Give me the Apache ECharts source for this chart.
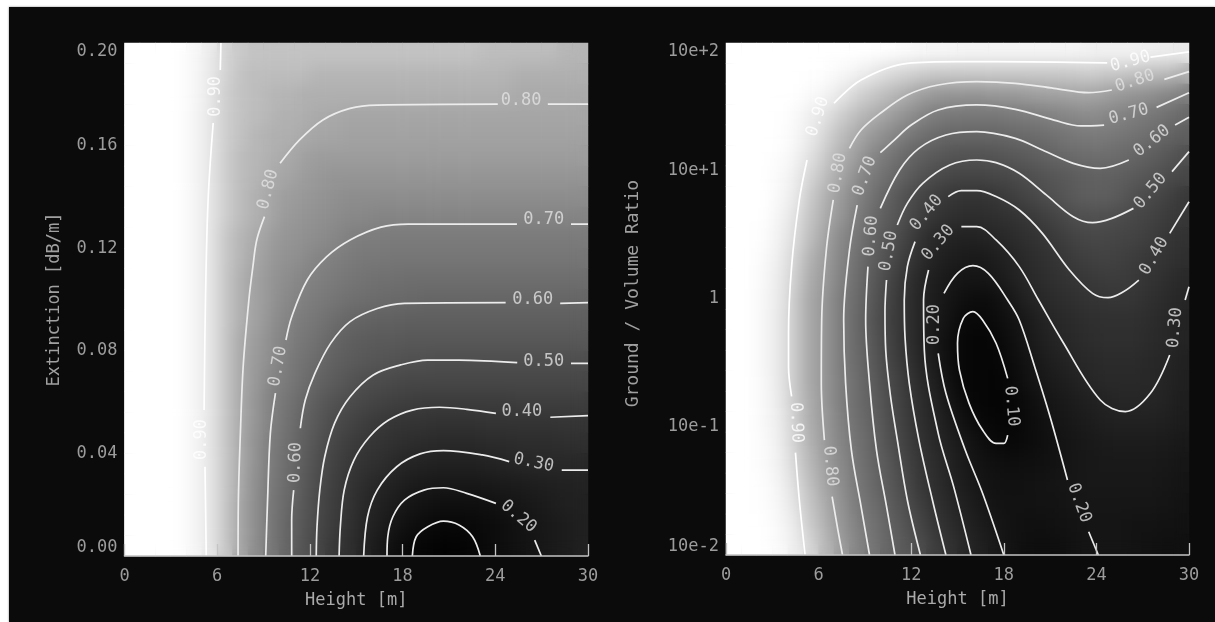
<!DOCTYPE html>
<html><head><meta charset="utf-8">
<style>
html,body{margin:0;padding:0;background:#fff;width:1215px;height:622px;overflow:hidden}
#frame{position:absolute;left:9px;top:7px;right:0;bottom:0;background:#0b0b0b;box-shadow:0 0 2px #888}
#chart{position:absolute;left:0;top:0;width:1215px;height:622px;filter:blur(0.7px)}
</style>
<script src="https://cdn.jsdelivr.net/npm/echarts@6/dist/echarts.min.js"></script>
</head><body><div id="frame"></div><div id="chart"></div>
<script>
// height bin centres [m]
const heightBins=[0.5,1.5,2.5,3.5,4.5,5.5,6.5,7.5,8.5,9.5,10.5,11.5,12.5,13.5,14.5,15.5,16.5,17.5,18.5,19.5,20.5,21.5,22.5,23.5,24.5,25.5,26.5,27.5,28.5,29.5];
// left panel rows, top to bottom (extinction), value x100
const extBins=[.196,.188,.18,.172,.164,.156,.148,.14,.132,.124,.116,.108,.1,.092,.084,.076,.068,.06,.052,.044,.036,.028,.02,.012,.004];
const leftGrid=[
[100,100,100,100,97,92,87,85,84,84,84,84,84,84,84,84,84,84,84,84,84,84,84,83,83,83,83,83,82,82],
[100,100,100,100,97,91,87,84,83,83,83,83,82,82,82,82,82,82,82,82,82,82,82,82,82,81,81,81,81,81],
[100,100,100,100,97,91,86,84,83,82,82,81,81,81,81,81,81,81,81,81,81,81,81,81,81,80,80,80,80,80],
[100,100,100,100,96,90,86,84,83,82,81,81,80,80,79,79,79,79,79,79,79,79,79,79,79,79,79,79,79,79],
[100,100,100,100,96,90,86,84,82,81,81,80,79,79,78,78,78,78,78,78,78,78,78,78,78,78,78,78,78,78],
[100,100,100,100,96,90,86,83,82,81,80,78,77,77,77,77,77,77,77,77,77,77,77,77,77,77,77,77,77,77],
[100,100,100,100,96,90,86,83,82,80,79,77,76,75,75,75,75,75,75,75,75,75,75,75,75,75,75,75,75,75],
[100,100,100,100,96,90,86,83,81,79,77,76,75,74,73,73,73,73,73,73,73,73,73,73,73,73,73,73,73,73],
[100,100,100,100,96,90,86,83,81,79,76,75,74,73,72,72,71,71,71,71,71,71,71,71,71,71,71,71,71,71],
[100,100,100,100,96,90,85,82,80,77,75,74,73,72,70,69,69,68,68,68,68,68,68,68,68,68,68,68,68,68],
[100,100,100,100,96,90,85,82,79,76,74,73,71,70,68,67,67,66,66,66,66,66,66,66,66,66,66,66,66,66],
[100,100,100,100,96,90,85,81,78,75,73,71,70,68,66,65,64,64,63,63,63,63,63,63,63,63,63,63,63,63],
[100,100,100,100,96,90,85,81,78,75,72,70,68,66,64,63,62,61,61,60,60,60,60,60,60,60,60,60,60,60],
[100,100,100,100,96,90,85,81,78,74,71,68,66,63,60,59,58,58,57,57,57,57,57,57,57,57,57,57,57,57],
[100,100,100,100,96,90,85,80,77,73,70,67,64,60,57,56,55,55,54,54,54,54,54,54,54,54,54,54,54,54],
[100,100,100,100,96,90,85,80,76,73,69,65,62,58,56,54,53,52,51,51,50,50,50,50,50,50,50,50,50,50],
[100,100,100,100,96,90,85,80,76,71,68,64,59,56,53,50,49,48,47,47,47,47,47,47,47,47,47,47,47,47],
[100,100,100,100,96,90,85,80,75,70,66,61,56,52,49,47,45,44,43,42,42,42,42,42,42,43,43,43,43,43],
[100,100,100,100,96,90,85,80,75,70,65,59,54,49,46,43,41,39,38,38,37,37,37,38,38,38,38,38,39,39],
[100,100,100,100,96,90,85,80,74,69,64,58,52,47,43,40,38,36,34,33,32,32,32,33,33,34,34,34,35,35],
[100,100,100,100,96,90,85,80,74,68,63,57,50,45,41,37,35,32,29,28,27,27,27,28,29,30,31,31,31,31],
[100,100,100,100,96,90,85,80,73,68,62,56,49,44,39,34,30,27,24,22,21,21,21,22,23,24,25,26,27,28],
[100,100,100,100,96,90,85,79,73,67,61,55,48,43,38,32,27,24,19,17,15,15,15,16,18,20,22,24,26,27],
[100,100,100,100,96,90,85,79,73,67,60,54,48,42,37,30,25,19,15,12,10,10,11,12,14,17,20,22,24,26],
[100,100,100,100,96,90,85,79,73,67,60,53,47,41,36,29,22,15,10,7,4,5,8,12,14,17,19,22,24,26]
];
// right panel rows, top to bottom (log10 of ground/volume ratio), value x100
const ratioBins=[1.92,1.76,1.6,1.44,1.28,1.12,.96,.8,.64,.48,.32,.16,0,-.16,-.32,-.48,-.64,-.8,-.96,-1.12,-1.28,-1.44,-1.6,-1.76,-1.92];
const rightGrid=[
[100,100,100,100,100,100,100,100,100,100,99,98,97,96,96,95,95,95,95,95,95,95,95,94,94,94,94,93,92,91],
[100,100,100,100,100,100,99,97,94,90,88,87,86,85,85,85,85,85,85,85,85,85,85,86,85,85,84,83,83,81],
[100,100,100,100,100,98,95,90,87,85,83,81,78,76,75,75,75,76,76,77,78,78,79,79,78,76,75,74,72,70],
[100,100,100,100,98,93,89,86,83,81,78,75,72,69,68,67,67,67,68,69,70,71,72,73,72,71,69,67,65,61],
[100,100,100,100,97,91,87,83,80,76,73,69,65,62,60,60,60,60,61,62,63,65,67,68,68,66,65,63,60,57],
[100,100,100,99,95,89,85,81,77,72,67,62,58,55,53,52,52,53,54,56,58,60,62,63,63,62,60,57,54,51],
[100,100,100,98,93,87,83,79,73,68,63,58,53,49,47,46,46,47,48,50,52,54,56,58,58,57,55,53,50,47],
[100,100,100,97,91,85,81,76,71,65,58,52,47,43,40,38,38,40,43,46,49,52,55,57,57,55,51,48,45,41],
[100,100,100,95,89,84,80,75,69,62,56,51,44,39,36,34,34,35,37,40,43,46,50,51,51,49,47,45,42,40],
[100,100,99,94,88,83,78,72,66,59,53,47,39,32,29,27,28,30,33,36,39,42,45,47,47,46,45,43,40,37],
[100,100,98,92,87,81,77,71,64,57,51,43,35,28,25,23,22,25,29,33,36,39,42,44,45,44,42,40,38,35],
[100,100,97,91,86,80,76,70,63,55,48,40,31,25,21,19,19,22,26,31,34,37,39,41,42,42,41,38,35,32],
[100,100,96,91,85,79,75,68,62,54,46,38,30,24,19,15,13,15,21,28,31,34,36,38,39,40,39,36,33,30],
[100,100,96,90,85,79,75,68,61,53,45,38,30,23,17,11,10,13,17,22,28,31,33,35,36,36,36,34,31,28],
[100,100,96,90,85,79,75,68,61,54,46,38,30,21,14,9,8,9,15,21,26,30,32,34,35,35,35,33,31,29],
[100,100,96,90,85,79,75,68,62,55,47,40,31,23,14,9,7,8,13,18,23,27,30,32,33,33,33,31,30,27],
[100,100,97,90,85,79,75,69,63,56,49,42,33,26,16,9,7,6,10,17,21,24,27,30,32,32,32,31,29,26],
[100,100,97,91,85,80,75,69,63,57,50,43,35,28,20,11,7,6,8,13,18,21,24,26,28,30,30,30,28,25],
[100,100,97,92,86,80,76,70,64,58,51,44,36,30,23,16,11,8,8,12,16,19,22,24,26,27,27,27,26,24],
[100,100,98,93,86,81,76,71,65,59,52,45,38,32,26,20,15,11,10,12,15,18,20,22,23,24,24,24,23,22],
[100,100,98,94,87,82,77,72,66,60,54,47,40,34,28,22,18,15,14,15,16,18,20,21,22,22,22,22,21,20],
[100,100,99,95,88,83,78,73,67,61,55,49,41,35,29,24,19,17,16,17,18,19,20,21,21,21,21,21,20,19],
[100,100,99,96,89,84,80,74,68,63,57,51,44,37,31,26,21,18,17,17,18,18,20,20,20,20,20,20,19,18],
[100,100,100,97,91,85,81,75,70,65,59,53,47,40,34,28,24,20,17,16,16,17,18,19,19,19,18,18,17,17],
[100,100,100,98,92,87,82,77,71,66,60,55,50,43,37,31,26,22,18,15,14,15,17,19,19,19,18,17,16,16]
];
// tick labels
const extTicks=["0.00","0.04","0.08","0.12","0.16","0.20"];
const ratioTicks=["10e-2","10e-1","1","10e+1","10e+2"];
// contours of the left panel: [height, extinction], one list per unbroken stretch
const leftContours=[
 {level:.9,segs:[[[6.24,.2],[6.2,.1895]],[[5.74,.1688],[5.41,.1388],[5.24,.0998],[5.15,.0569]],[[5.21,.0348],[5.29,0]]]},
 {level:.8,segs:[[[30,.1762],[27.4,.1762]],[[24.16,.1762],[16.36,.1758],[14.6,.1745],[12.84,.17],[11.33,.1622],[10.07,.1531]],[[9.06,.1323],[8.56,.1232],[8.31,.1128],[8.05,.0998],[7.68,.0738],[7.5,.0478],[7.37,.0218],[7.35,0]]]},
 {level:.7,segs:[[[30,.1294],[28.9,.1294]],[[25.4,.1294],[18.37,.1294],[16.6,.1282],[14.6,.1232],[13.09,.1167],[11.83,.1076],[10.82,.0932],[10.45,.0842]],[[9.77,.0635],[9.44,.0478],[9.26,.0218],[9.14,0]]]},
 {level:.6,segs:[[[30,.0988],[28.2,.0985]],[[24.67,.0988],[18.12,.0985],[16.36,.0965],[14.6,.0914],[13.34,.0829],[12.33,.0713],[11.7,.0608],[11.38,.0498]],[[10.95,.0257],[10.82,.014],[10.82,0]]]},
 {level:.5,segs:[[[30,.0751],[28.9,.0751]],[[25.42,.0754],[21.65,.0764],[19.63,.0764],[17.87,.0745],[16.1,.0706],[14.6,.0621],[13.6,.0518],[12.96,.0387],[12.64,.0257],[12.46,.0114],[12.41,0]]]},
 {level:.4,segs:[[[30,.0547],[27.56,.0541]],[[24.04,.0556],[22.15,.0572],[20.39,.058],[18.63,.0569],[17.1,.053],[15.86,.0465],[14.85,.0374],[14.22,.0257],[13.97,.0114],[13.89,0]]]},
 {level:.3,segs:[[[30,.0335],[28.3,.0335]],[[24.9,.0368],[23.16,.0394],[20.64,.0411],[19.13,.0398],[17.62,.0348],[16.36,.0257],[15.73,.0153],[15.48,0]]]},
 {level:.2,segs:[[[24.04,.0205],[22.15,.0244],[20.64,.0266],[19.38,.0257],[18.12,.0218],[17.37,.0153],[17.04,.0075],[16.99,0]],[[26.55,.0062],[26.98,0]]]},
 {level:.1,segs:[[[18.63,0],[18.88,.0075],[19.63,.0114],[20.64,.0136],[21.65,.0121],[22.53,.0075],[23.03,0]]]}
];
// contour labels of the left panel: [height, extinction, text, angle]
const leftLabels=[
 [5.9,.179,"0.90",90],[4.96,.0452,"0.90",90],
 [25.67,.1775,"0.80",0],[9.3,.1427,"0.80",75],
 [27.13,.131,"0.70",0],[9.94,.0738,"0.70",80],
 [26.43,.0998,"0.60",0],[11.07,.0362,"0.60",88],
 [27.13,.0757,"0.50",0],[25.72,.056,"0.40",0],
 [26.48,.0361,"0.30",-12],[25.5,.0152,"0.20",-40]
];
// contours of the right panel: [height, log10(ratio)]
const rightContours=[
 {level:.9,segs:[[[30,1.93],[27.5,1.89]],[[24.7,1.845],[17.5,1.854],[15,1.854],[11.75,1.841],[8.75,1.711],[7,1.529]],[[5.25,1.086],[4.75,.774],[4.25,.253],[4.05,-.268],[4.05,-.529],[4.25,-.76]],[[4.5,-1.2],[4.75,-1.57],[5.125,-2]]]},
 {level:.8,segs:[[[30,1.776],[28.4,1.716]],[[25,1.633],[23.5,1.612],[21.25,1.646],[18.75,1.685],[16.25,1.698],[13.75,1.672],[11.75,1.594],[10,1.451],[8.75,1.32],[8,1.177]],[[6.95,.774],[6.5,.383],[6.2,-.164],[6.175,-.659],[6.375,-1.102]],[[6.875,-1.544],[7.25,-1.805],[7.55,-2]]]},
 {level:.7,segs:[[[30,1.612],[27.9,1.497]],[[24.5,1.359],[23,1.352],[21.25,1.398],[18.75,1.482],[16.25,1.516],[13.75,1.477],[12,1.359],[10.9,1.242],[10,1.143]],[[8.5,.734],[8,.383],[7.625,-.164],[7.75,-.659],[8.125,-1.18],[8.75,-1.62],[9.3,-2]]]},
 {level:.6,segs:[[[30,1.419],[29.1,1.359]],[[26.1,1.086],[24.25,1.021],[22.5,1.06],[20.5,1.164],[18.75,1.255],[16.25,1.307],[14.25,1.281],[12.5,1.177],[11.25,1.008],[10,.708]],[[9.2,.253],[9.05,-.164],[9.3,-.659],[9.75,-1.18],[10.4,-1.62],[10.95,-2]]]},
 {level:.5,segs:[[[30,1.151],[28.9,.995]],[[26.4,.708],[25,.63],[23.75,.596],[22.5,.643],[20.75,.813],[19,.982],[17.5,1.065],[16.25,1.086],[14.5,1.047],[12.75,.904],[11.75,.747],[11.1,.578]],[[10.4,.148],[10.3,-.1],[10.35,-.4],[10.65,-.75],[11.1,-1.1],[11.75,-1.57],[12.6,-2]]]},
 {level:.4,segs:[[[30,.76],[28.75,.513]],[[26.75,.148],[25.75,.057],[24.75,.01],[23.75,.044],[22.25,.227],[20.5,.513],[19,.695],[17.5,.8],[16.25,.846],[15.25,.846],[14.4,.8]],[[12.25,.448],[11.75,.253],[11.55,-.008],[11.6,-.3],[11.875,-.659],[12.5,-1.102],[13.375,-1.57],[14.25,-2]]]},
 {level:.3,segs:[[[30,.096],[29.75,-.008]],[[28.75,-.438],[27.5,-.737],[25.875,-.88],[24.25,-.789],[21.75,-.32],[20.25,-.008],[19,.253],[17.5,.461],[16.25,.565],[15.25,.565]],[[13.125,.227],[12.8,-.008],[12.85,-.398],[13.75,-1.05],[14.75,-1.466],[15.875,-2]]]},
 {level:.2,segs:[[[14.125,.044],[15,.2],[16,.26],[17,.2],[18.25,-.008],[19,-.164],[20,-.529],[21,-.92],[22.125,-1.414]],[[23.5,-1.818],[24.125,-2]],[[13.75,-.425],[14.25,-.737],[15.5,-1.18],[16.625,-1.518],[18,-2]]]},
 {level:.1,segs:[[[18.25,-.62],[17.5,-.346],[16.625,-.164],[16,-.099],[15.375,-.151],[15,-.346],[15.125,-.555],[15.75,-.815],[16.625,-1.024],[17.5,-1.128],[18,-1.128],[18.25,-1.063]]]}
];
// contour labels of the right panel: [height, log10(ratio), text, angle]
const rightLabels=[
 [26.2,1.85,"0.90",15],[5.96,1.42,"0.90",72],[4.55,-.97,"0.90",-88],
 [26.5,1.698,"0.80",18],[7.25,.98,"0.80",80],[6.75,-1.31,"0.80",-85],
 [26.1,1.438,"0.70",15],[9,.956,"0.70",70],
 [27.6,1.229,"0.60",38],[9.4,.487,"0.60",85],
 [27.5,.839,"0.50",50],[10.55,.37,"0.50",80],
 [27.75,.331,"0.40",60],[13,.669,"0.40",50],
 [29.1,-.229,"0.30",85],[13.75,.435,"0.30",50],
 [13.5,-.203,"0.20",90],[22.875,-1.597,"0.20",-70],
 [18.5,-.841,"0.10",-85]
];

const FONT='"DejaVu Sans Mono"';
const TICK='#9c9c9c', LINE='#ececec', LABEL='#e2e2e2';
const TOP=2;
const rectL={left:124.5,top:43,width:463.5,height:513};
const rectR={left:726,top:43,width:463,height:512};
const heat=(rows)=>rows.flatMap((r,j)=>r.map((v,i)=>[i,j,v]));
const hidden=(gridIndex,type,data,inverse)=>({type,gridIndex,data,inverse:!!inverse,show:false});
const xVal=(gridIndex)=>({type:'value',gridIndex,min:0,max:30,interval:6,z:10,zlevel:TOP,
  name:'Height [m]',nameLocation:'middle',nameGap:36,
  nameTextStyle:{color:'#aaaaaa',fontFamily:FONT,fontSize:17},
  axisLine:{show:true,onZero:false,lineStyle:{color:'#c4c4c4',width:1.5}},
  axisTick:{show:true,inside:true,length:12,lineStyle:{color:'#c4c4c4',width:1.3}},
  axisLabel:{color:TICK,fontFamily:FONT,fontSize:17,margin:12,hideOverlap:false,showMinLabel:true,showMaxLabel:true,formatter:v=>String(v)},
  splitLine:{show:false}});
const yVal=(gridIndex,o)=>Object.assign({type:'value',gridIndex,z:10,zlevel:TOP,nameLocation:'middle',nameRotate:90,
  axisLine:{show:false},axisTick:{show:false},splitLine:{show:false}},o);
const yLabel=(f)=>({color:TICK,fontFamily:FONT,fontSize:17,margin:7,showMinLabel:true,showMaxLabel:true,
  verticalAlignMinLabel:'bottom',verticalAlignMaxLabel:'top',formatter:f});
const lines=(contours,idx)=>contours.flatMap(c=>c.segs.map(s=>({type:'line',xAxisIndex:idx,yAxisIndex:idx,data:s,zlevel:TOP,
  showSymbol:false,silent:true,smooth:0.35,z:5,lineStyle:{color:c.level>=.9?'#ffffff':LINE,width:1.7}})));
const labels=(list,idx)=>({type:'scatter',xAxisIndex:idx,yAxisIndex:idx,symbolSize:1,silent:true,z:6,zlevel:TOP,
  itemStyle:{color:'rgba(0,0,0,0)'},
  data:list.map(l=>({value:[l[0],l[1]],label:{show:true,position:'top',distance:0,align:'center',verticalAlign:'middle',
    formatter:l[2],rotate:l[3],color:l[2]==='0.90'?'#ffffff':LABEL,textBorderWidth:0,textShadowBlur:0,fontFamily:FONT,fontSize:17}}))});

const chart=echarts.init(document.getElementById('chart'),null,{renderer:'canvas'});
chart.setOption({
 animation:false,backgroundColor:'transparent',
 grid:[rectL,rectL,rectR,rectR].map(r=>Object.assign({containLabel:false},r)),
 visualMap:{show:false,seriesIndex:[0,1,2,3],min:0,max:100,calculable:false,
   inRange:{color:['#000000','#080808','#161616','#262626','#373737','#4e4e4e','#666666','#808080','#aaaaaa','#e8e8e8','#ffffff']}},
 xAxis:[hidden(0,'category',heightBins),xVal(1),hidden(2,'category',heightBins),xVal(3)],
 yAxis:[hidden(0,'category',extBins,true),
  yVal(1,{min:0,max:.2,interval:.04,name:'Extinction [dB/m]',nameGap:61,
    nameTextStyle:{color:'#a0a0a0',fontFamily:FONT,fontSize:17},
    axisLabel:yLabel(v=>extTicks[Math.round(v/.04)])}),
  hidden(2,'category',ratioBins,true),
  yVal(3,{min:-2,max:2,interval:1,name:'\u00a0Ground / Volume Ratio',nameGap:84,
    nameTextStyle:{color:'#a0a0a0',fontFamily:FONT,fontSize:18},
    axisLabel:yLabel(v=>ratioTicks[Math.round(v)+2])})],
 series:[
  // sharp cells underneath, the same cells softened above them (second canvas layer)
  {type:'heatmap',xAxisIndex:0,yAxisIndex:0,data:heat(leftGrid),silent:true,z:2,zlevel:0,progressive:0},
  {type:'heatmap',xAxisIndex:2,yAxisIndex:2,data:heat(rightGrid),silent:true,z:2,zlevel:0,progressive:0},
  {type:'heatmap',xAxisIndex:0,yAxisIndex:0,data:heat(leftGrid),silent:true,z:2,zlevel:1,progressive:0},
  {type:'heatmap',xAxisIndex:2,yAxisIndex:2,data:heat(rightGrid),silent:true,z:2,zlevel:1,progressive:0},
  ...lines(leftContours,1),labels(leftLabels,1),
  ...lines(rightContours,3),labels(rightLabels,3)
 ]
});
const canv=document.querySelectorAll('#chart canvas');
if(canv.length>1){
  canv[1].style.filter='blur(8px)';
  canv[1].style.clipPath="path('M124 43H588V556H124Z M726 43H1189V555H726Z')";
}
</script></body></html>
